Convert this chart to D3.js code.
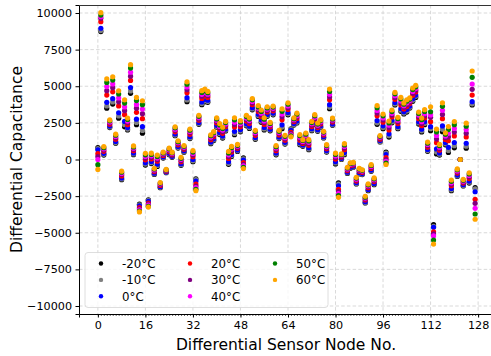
<!DOCTYPE html>
<html>
<head>
<meta charset="utf-8">
<script src="https://cdn.jsdelivr.net/npm/d3@7"></script>
<style>
  body { margin: 0; background: #fff; }
  text { font-family: "DejaVu Sans", sans-serif; }
</style>
</head>
<body>
<script>
// sensor nodes 0..127
const nodes = d3.range(128);

// differential capacitance per temperature
const t_m20 = [820,8730,300,3500,2180,3780,1110,2820,-1380,2230,2020,4520,330,2380,-3050,1800,-380,-2750,-280,-1020,
  -470,-1930,100,-900,330,150,1620,780,-400,500,3950,1430,-150,-1320,2400,3740,3940,3900,1080,1290,
  2200,1700,1460,1950,-330,200,1690,550,1890,110,2300,2120,3390,1380,2940,2540,2020,2950,1960,3050,
  320,1430,2100,1050,3050,2100,2350,2490,1010,900,1120,670,1970,2380,1920,2200,1470,510,3470,2330,
  -300,-1600,0,330,-950,-600,-530,-1670,-990,-1030,-2970,-2130,-810,-1720,2400,1200,2100,510,1530,2500,
  3720,2100,3290,3110,3240,3510,3970,4240,2420,1880,2380,560,1970,-4450,380,300,1900,1000,480,-2130,
  800,-1160,0,-1810,770,-1610,3720,-1920];
const t_m10 = [740,8800,350,3660,2220,3930,1160,2970,-1330,2380,2080,4680,380,2530,-3090,1980,-310,-2790,-220,-990,
  -410,-1900,130,-880,370,180,1670,820,-360,540,4060,1480,-90,-1380,2450,3820,4010,3960,1130,1340,
  2250,1760,1520,2000,-260,260,1780,590,1950,50,2360,2180,3450,1430,3000,2610,2090,3000,2010,3100,
  370,1470,2210,1100,3120,2060,2390,2540,1070,940,1180,720,2020,2430,1970,2240,1510,550,3580,2370,
  -240,-1680,30,390,-920,-570,-500,-1630,-960,-1000,-2930,-2090,-770,-1680,2500,1230,2180,440,1620,2570,
  3790,2160,3370,3170,3310,3570,4040,4310,2490,1960,2460,610,2100,-4560,520,360,2060,1070,620,-2070,
  940,-1120,0,-1770,910,-1550,3800,-2000];
const t_0 = [660,8960,420,3900,2280,4150,1230,3190,-1260,2600,2180,4910,450,2750,-3160,2240,-220,-2850,-140,-940,
  -320,-1860,180,-860,420,220,1740,880,-290,590,4220,1560,0,-1480,2520,3930,4110,4050,1200,1410,
  2330,1850,1610,2080,-150,340,1920,650,2040,-40,2440,2270,3540,1500,3090,2710,2190,3080,2070,3170,
  450,1540,2370,1170,3210,1990,2450,2630,1150,990,1260,810,2100,2520,2030,2300,1560,610,3740,2430,
  -150,-1800,80,480,-870,-530,-460,-1580,-910,-960,-2880,-2040,-720,-1630,2660,1290,2300,340,1750,2680,
  3890,2260,3480,3260,3410,3650,4150,4400,2580,2070,2580,690,2240,-4630,720,450,2290,1160,830,-1980,
  1160,-1060,0,-1720,1110,-1470,3950,-2200];
const t_20 = [400,9410,560,4400,2410,4620,1390,3660,-1120,3060,2380,5400,600,3220,-3290,2790,-20,-2980,40,-830,
  -120,-1770,280,-800,530,310,1890,1000,-150,700,4560,1720,190,-1680,2680,4170,4330,4240,1350,1560,
  2490,2040,1790,2240,70,510,2210,770,2230,-220,2620,2450,3740,1650,3270,2920,2390,3240,2220,3320,
  600,1680,2710,1320,3420,1850,2580,2800,1320,1100,1430,980,2250,2690,2180,2430,1670,740,4070,2560,
  30,-2040,170,670,-760,-430,-380,-1470,-810,-880,-2760,-1920,-600,-1510,2980,1390,2550,130,2020,2900,
  4110,2450,3720,3450,3620,3820,4380,4610,2790,2310,2840,840,2580,-4930,1150,630,2790,1370,1280,-1800,
  1610,-930,0,-1610,1540,-1300,4400,-2720];
const t_30 = [200,9640,650,4700,2490,4900,1480,3940,-1030,3330,2510,5690,690,3500,-3370,3130,100,-3050,150,-770,
  -10,-1710,340,-770,600,360,1990,1080,-70,770,4760,1820,300,-1810,2770,4320,4460,4350,1450,1660,
  2590,2150,1900,2340,200,610,2390,840,2350,-330,2730,2560,3850,1750,3380,3040,2520,3340,2300,3410,
  700,1770,2910,1410,3540,1770,2650,2900,1420,1170,1530,1080,2350,2790,2260,2510,1740,810,4270,2630,
  140,-2190,230,780,-700,-380,-330,-1400,-760,-830,-2690,-1850,-530,-1440,3170,1460,2700,0,2180,3030,
  4240,2570,3860,3560,3740,3920,4520,4730,2910,2450,2990,940,2880,-5080,1400,740,3080,1490,1540,-1690,
  1870,-850,0,-1540,1800,-1190,4790,-2990];
const t_40 = [0,9750,730,4980,2560,5160,1570,4200,-950,3590,2620,5960,770,3760,-3440,3440,210,-3120,250,-710,
  100,-1660,400,-740,660,410,2070,1150,10,830,4950,1910,410,-1920,2860,4450,4580,4460,1530,1740,
  2680,2260,2010,2430,320,710,2550,910,2450,-430,2830,2660,3960,1830,3490,3160,2630,3430,2380,3490,
  790,1840,3100,1490,3660,1690,2720,2990,1520,1230,1630,1170,2440,2880,2340,2580,1800,880,4460,2700,
  240,-2330,280,890,-640,-330,-290,-1340,-700,-790,-2630,-1790,-470,-1380,3350,1520,2840,-120,2340,3150,
  4360,2680,3990,3670,3860,4020,4640,4850,3030,2580,3130,1030,3040,-5220,1640,840,3360,1610,1790,-1590,
  2120,-780,0,-1480,2040,-1090,5150,-3330];
const t_50 = [-350,9860,810,5260,2640,5420,1660,4470,-870,3850,2730,6240,860,4020,-3520,3740,320,-3190,340,-650,
  210,-1610,450,-710,730,460,2160,1220,80,900,5140,2000,510,-2030,2950,4580,4700,4560,1620,1830,
  2770,2360,2110,2520,440,810,2710,970,2560,-530,2930,2760,4070,1920,3590,3280,2750,3520,2460,3580,
  870,1920,3290,1580,3770,1620,2790,3090,1620,1300,1730,1270,2520,2980,2420,2660,1870,950,4650,2770,
  340,-2460,330,990,-580,-270,-240,-1270,-650,-740,-2570,-1730,-410,-1320,3530,1580,2980,-240,2490,3270,
  4480,2790,4130,3770,3980,4120,4770,4960,3140,2720,3280,1110,3260,-5500,1880,940,3630,1720,2040,-1490,
  2380,-700,0,-1410,2270,-990,5610,-3720];
const t_60 = [-680,10020,880,5500,2700,5640,1730,4690,-800,4070,2830,6470,930,4240,-3580,4010,420,-3250,430,-600,
  300,-1570,500,-680,780,500,2230,1280,150,950,5300,2080,600,-2130,3020,4700,4800,4650,1690,1900,
  2850,2450,2200,2600,550,890,2850,1030,2650,-620,3020,2850,4160,1990,3680,3380,2850,3600,2530,3650,
  950,1990,3450,1650,3870,1550,2850,3170,1700,1350,1810,1350,2600,3060,2490,2720,1920,1010,4810,2830,
  430,-2580,380,1080,-530,-230,-200,-1220,-600,-700,-2510,-1670,-350,-1260,3680,1630,3100,-340,2620,3380,
  4580,2880,4240,3860,4080,4200,4880,5060,3240,2830,3400,1190,3600,-5770,2080,1030,3870,1820,2250,-1400,
  2590,-640,0,-1360,2480,-910,6040,-4080];

const seriesNames = ['-20°C', '-10°C', '0°C', '20°C', '30°C', '40°C', '50°C', '60°C'];
const seriesColors = ['black', 'gray', 'blue', 'red', 'purple', 'magenta', 'green', 'orange'];
const seriesValues = [t_m20, t_m10, t_0, t_20, t_30, t_40, t_50, t_60];

const xTicks = d3.range(0, 129, 16);
const yTicks = d3.range(-10000, 10001, 2500);

const width = 491;
const height = 356;
const margin = {top: 5, right: -3, bottom: 42, left: 79};
const plotW = width - margin.left - margin.right;
const plotH = height - margin.top - margin.bottom;

const svg = d3.select('body').append('svg')
    .attr('width', width)
    .attr('height', height);

const x = d3.scaleLinear().domain([-6.35, 133.35]).range([0, plotW]);
const y = d3.scaleLinear().domain([-10546, 10546]).range([plotH, 0]);

const plot = svg.append('g')
    .attr('transform', `translate(${margin.left},${margin.top})`);

// grid
plot.append('g').selectAll('line').data(xTicks).join('line')
    .attr('x1', d => x(d)).attr('x2', d => x(d))
    .attr('y1', 0).attr('y2', plotH)
    .attr('stroke', '#cfcfcf').attr('stroke-width', 0.8)
    .attr('stroke-dasharray', '3.5,2.2');
plot.append('g').selectAll('line').data(yTicks).join('line')
    .attr('x1', 0).attr('x2', plotW)
    .attr('y1', d => y(d)).attr('y2', d => y(d))
    .attr('stroke', '#cfcfcf').attr('stroke-width', 0.8)
    .attr('stroke-dasharray', '3.5,2.2');

// points, coldest first so warmer series sit on top
seriesValues.forEach((vals, i) => {
    plot.append('g').selectAll('circle').data(nodes).join('circle')
        .attr('cx', d => x(d))
        .attr('cy', d => y(vals[d]))
        .attr('r', 2.6)
        .attr('fill', seriesColors[i]);
});

// axes
const xAxis = plot.append('g')
    .attr('transform', `translate(0,${plotH})`)
    .call(d3.axisBottom(x).tickValues(xTicks).tickSize(3.5).tickPadding(3.5).tickFormat(d3.format('d')));
plot.append('g')
    .attr('transform', `translate(0,${plotH})`)
    .call(d3.axisBottom(x).tickValues(d3.range(0, 129, 1)).tickSize(2).tickFormat(''))
    .call(g => g.select('.domain').remove())
    .selectAll('line').attr('stroke-width', 0.6);
const yAxis = plot.append('g')
    .call(d3.axisLeft(y).tickValues(yTicks).tickSize(3.5).tickPadding(3.5).tickFormat(d3.format('d')));

[xAxis, yAxis].forEach(g => {
    g.selectAll('text').attr('font-size', 11.2).attr('fill', '#000')
        .attr('font-family', '"DejaVu Sans", sans-serif');
    g.select('.domain').attr('stroke-width', 1);
});

// top spine
plot.append('line')
    .attr('x1', 0).attr('x2', plotW).attr('y1', 0.5).attr('y2', 0.5)
    .attr('stroke', '#333').attr('stroke-width', 1.2);

// axis titles
svg.append('text')
    .attr('x', 286).attr('y', 350)
    .attr('text-anchor', 'middle')
    .attr('font-size', 15.5)
    .text('Differential Sensor Node No.');
svg.append('text')
    .attr('transform', `translate(22,${margin.top + plotH / 2}) rotate(-90)`)
    .attr('text-anchor', 'middle')
    .attr('font-size', 15.5)
    .text('Differential Capacitance');

// legend, 3 rows, column-major
const legend = svg.append('g').attr('transform', 'translate(85,252.5)');
legend.append('rect')
    .attr('width', 243).attr('height', 55)
    .attr('rx', 3)
    .attr('fill', 'rgba(255,255,255,0.8)')
    .attr('stroke', '#d5d5d5').attr('stroke-width', 0.8);
const colX = [16, 105, 190];
seriesNames.forEach((name, i) => {
    const cx = colX[Math.floor(i / 3)];
    const cy = 11 + (i % 3) * 16.4;
    legend.append('circle').attr('cx', cx).attr('cy', cy).attr('r', 2.2).attr('fill', seriesColors[i]);
    legend.append('text').attr('x', cx + 21).attr('y', cy + 4.3)
        .attr('font-size', 11.8).text(name);
});
</script>
</body>
</html>
